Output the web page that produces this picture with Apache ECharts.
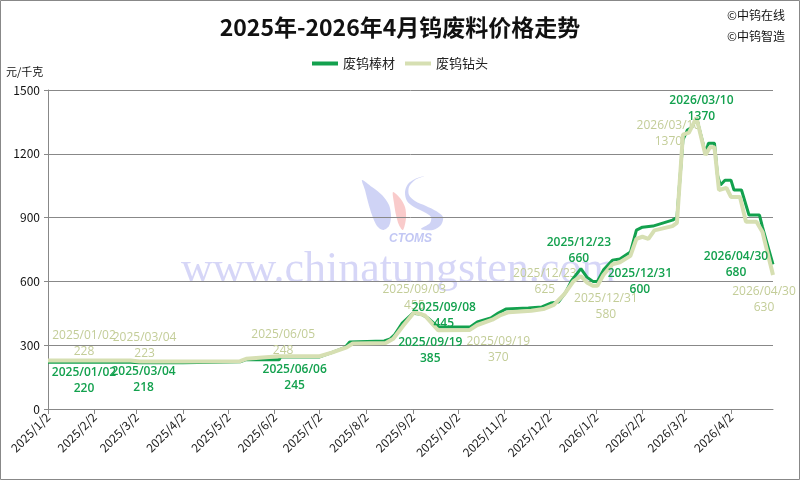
<!DOCTYPE html>
<html>
<head>
<meta charset="utf-8">
<script src="https://cdn.jsdelivr.net/npm/echarts@6/dist/echarts.min.js"></script>
<style>
  html, body { margin: 0; padding: 0; background: #fff; }
  #main { width: 800px; height: 480px; }
</style>
</head>
<body>
<div id="main"></div>
<script>
// 月度刻度
var tickLabels = ['2025/1/2', '2025/2/2', '2025/3/2', '2025/4/2', '2025/5/2', '2025/6/2', '2025/7/2', '2025/8/2',
  '2025/9/2', '2025/10/2', '2025/11/2', '2025/12/2', '2026/1/2', '2026/2/2', '2026/3/2', '2026/4/2'];

// 废钨棒材
var barDates = ['2025/01/02', '2025/02/26', '2025/03/04', '2025/04/02', '2025/04/03', '2025/05/10', '2025/05/14',
  '2025/06/05', '2025/06/06', '2025/07/02', '2025/07/10', '2025/07/19', '2025/07/22', '2025/08/14', '2025/08/18',
  '2025/08/21', '2025/08/26', '2025/09/02', '2025/09/08', '2025/09/12', '2025/09/19', '2025/10/10', '2025/10/15',
  '2025/10/24', '2025/10/29', '2025/11/03', '2025/11/18', '2025/11/27', '2025/12/03', '2025/12/08', '2025/12/13',
  '2025/12/17', '2025/12/23', '2025/12/27', '2025/12/31', '2026/01/03', '2026/01/07', '2026/01/13', '2026/01/18',
  '2026/01/25', '2026/01/29', '2026/02/02', '2026/02/09', '2026/02/22', '2026/02/25', '2026/03/01', '2026/03/04',
  '2026/03/07', '2026/03/10', '2026/03/16', '2026/03/18', '2026/03/22', '2026/03/24', '2026/03/26', '2026/03/29',
  '2026/04/02', '2026/04/04', '2026/04/09', '2026/04/14', '2026/04/21', '2026/04/23', '2026/04/26', '2026/04/30'];
var barValues = [220, 220, 218, 218, 222, 222, 232,
  232, 245, 245, 265, 290, 315, 320, 330,
  350, 404, 450, 445, 428, 385, 385, 409,
  428, 451, 470, 475, 480, 498, 503, 550,
  606, 660, 620, 600, 600, 653, 700, 705,
  738, 841, 855, 860, 888, 900, 1265, 1312,
  1325, 1370, 1203, 1250, 1250, 1100, 1053, 1076,
  1076, 1030, 1030, 912, 912, 855, 780, 680];

// 废钨钻头
var bitDates = ['2025/01/02', '2025/02/26', '2025/03/04', '2025/04/02', '2025/04/03', '2025/05/10', '2025/05/14',
  '2025/06/05', '2025/07/02', '2025/07/10', '2025/07/20', '2025/07/24', '2025/08/15', '2025/08/20', '2025/08/27',
  '2025/09/03', '2025/09/10', '2025/09/19', '2025/10/10', '2025/10/15', '2025/10/25', '2025/10/30', '2025/11/05',
  '2025/11/20', '2025/11/28', '2025/12/05', '2025/12/12', '2025/12/18', '2025/12/23', '2025/12/27', '2025/12/31',
  '2026/01/03', '2026/01/07', '2026/01/13', '2026/01/18', '2026/01/25', '2026/01/29', '2026/02/02', '2026/02/06',
  '2026/02/10', '2026/02/22', '2026/02/25', '2026/03/01', '2026/03/05', '2026/03/10', '2026/03/16', '2026/03/19',
  '2026/03/22', '2026/03/25', '2026/03/30', '2026/04/02', '2026/04/08', '2026/04/12', '2026/04/19', '2026/04/23',
  '2026/04/30'];
var bitValues = [228, 228, 223, 223, 225, 225, 236,
  248, 248, 265, 290, 308, 310, 330, 395,
  455, 440, 370, 372, 395, 420, 440, 455,
  462, 470, 490, 540, 600, 625, 595, 580,
  580, 630, 680, 690, 720, 800, 810, 800,
  840, 860, 875, 1290, 1300, 1370, 1194, 1231,
  1231, 1030, 1040, 997, 997, 880, 880, 832,
  630];

// 标注点
var barNotes = [['2025/01/02', 220], ['2025/03/04', 218], ['2025/06/06', 245], ['2025/09/19', 385],
  ['2025/09/08', 445], ['2025/12/23', 660], ['2025/12/31', 600], ['2026/03/10', 1370], ['2026/04/30', 680]];
var bitNotes = [['2025/01/02', 228], ['2025/03/04', 223], ['2025/06/05', 248], ['2025/09/03', 455],
  ['2025/09/19', 370], ['2025/12/23', 625], ['2025/12/31', 580], ['2026/03/10', 1370], ['2026/04/30', 630]];

var barOffsets = [[36, 18], [4, 17], [14, 21], [-8, 23], [22, 1], [-2, -18], [47, 0], [5, -9], [-37, 0]];
var bitOffsets = [[36, -17], [5, -16], [4, -14], [0, -15], [60, 19], [-36, 5], [13, 21], [-28, 16], [-9, 25]];

var GREEN = '#13a14e';
var LIGHT = '#d6dfb2';

function ts(s) {
  var p = s.split('/');
  return new Date(+p[0], +p[1] - 1, +p[2]).getTime();
}
function pairs(dates, values) {
  return dates.map(function (d, i) { return [ts(d), values[i]]; });
}
function notes(list, offsets, color) {
  return list.map(function (n, i) {
    return {
      coord: [ts(n[0]), n[1]],
      name: n[0],
      value: n[1],
      label: { offset: offsets[i], color: color }
    };
  });
}

var chart = echarts.init(document.getElementById('main'));
var tickValues = tickLabels.map(ts);

chart.setOption({
  animation: false,
  backgroundColor: '#fff',
  title: {
    text: '2025年-2026年4月钨废料价格走势',
    left: 395,
    top: 11,
    textAlign: 'center',
    textStyle: { fontFamily: 'Noto Sans CJK SC', fontWeight: 'bold', fontSize: 23, color: '#111' }
  },
  legend: {
    top: 52,
    left: 'center',
    itemWidth: 26,
    itemHeight: 4,
    itemGap: 10,
    icon: 'rect',
    textStyle: { fontFamily: 'Noto Sans CJK SC', fontSize: 13, color: '#222' },
    data: ['废钨棒材', '废钨钻头']
  },
  graphic: [
    { type: 'rect', shape: { x: 0.5, y: 0.5, width: 799, height: 479 }, style: { fill: null, stroke: '#888', lineWidth: 1 }, z: 100 },
    { type: 'text', left: 727, top: 9, style: { text: '©中钨在线', fontFamily: 'Noto Sans CJK SC', fontSize: 12, fill: '#111' } },
    { type: 'text', left: 727, top: 30, style: { text: '©中钨智造', fontFamily: 'Noto Sans CJK SC', fontSize: 12, fill: '#111' } },
    { type: 'text', left: 6, top: 66, style: { text: '元/千克', fontFamily: 'Noto Sans CJK SC', fontSize: 11, fill: '#111' } },
    // 水印 logo
    { type: 'polygon', z: 0, shape: { points: [[362, 180], [372, 187], [382, 195], [389, 205], [391, 216], [389, 226], [383, 230], [377, 226], [372, 215], [368, 202], [365, 190]], smooth: 0.3 }, style: { fill: 'rgba(130,140,230,0.38)' } },
    { type: 'polygon', z: 0, shape: { points: [[393, 192], [400, 198], [405, 207], [406, 218], [403, 230], [399, 225], [396, 215], [394, 203]], smooth: 0.3 }, style: { fill: 'rgba(240,130,130,0.42)' } },
    { type: 'polygon', z: 0, shape: { points: [[424, 176], [415, 180], [409, 187], [409, 195], [415, 201], [426, 206], [436, 211], [443, 217], [441, 225], [433, 230], [421, 229], [430, 223], [431, 217], [424, 212], [414, 207], [407, 201], [405, 192], [408, 184], [415, 179]], smooth: 0.3 }, style: { fill: 'rgba(130,140,230,0.38)' } },
    { type: 'text', left: 389, top: 233, z: 0, style: { text: 'CTOMS', fontFamily: 'Liberation Sans', fontStyle: 'italic', fontWeight: 'bold', fontSize: 12, fill: 'rgba(120,130,230,0.45)' } },
    { type: 'text', left: 181, top: 248, z: 0, style: { text: 'www.chinatungsten.com', fontFamily: 'Liberation Serif', fontSize: 44, fill: 'rgba(120,120,230,0.3)' } }
  ],
  grid: { left: 48, right: 27, top: 90, bottom: 71 },
  xAxis: {
    type: 'value',
    min: ts('2025/01/02'),
    max: ts('2026/04/30'),
    axisLine: { lineStyle: { color: '#888' } },
    axisTick: { show: true, customValues: tickValues, length: 5, lineStyle: { color: '#888' } },
    splitLine: { show: false },
    axisLabel: {
      customValues: tickValues,
      rotate: 45,
      fontFamily: 'Noto Sans CJK SC',
      fontSize: 12,
      color: '#222',
      margin: 6,
      formatter: function (v) {
        var d = new Date(v);
        return d.getFullYear() + '/' + (d.getMonth() + 1) + '/' + d.getDate();
      }
    }
  },
  yAxis: {
    type: 'value',
    min: 0,
    max: 1500,
    interval: 300,
    axisLine: { show: true, lineStyle: { color: '#888' } },
    axisTick: { show: true, length: 4, lineStyle: { color: '#888' } },
    splitLine: { lineStyle: { color: '#888' } },
    axisLabel: {
      fontFamily: 'Noto Sans CJK SC', fontSize: 12, color: '#111', margin: 8,
      formatter: function (v) { return String(v); }
    }
  },
  series: [
    {
      name: '废钨棒材',
      type: 'line',
      showSymbol: false,
      color: GREEN,
      lineStyle: { width: 3, color: GREEN },
      data: pairs(barDates, barValues),
      z: 3,
      markPoint: {
        symbol: 'circle',
        symbolSize: 0,
        label: {
          show: true,
          position: 'inside',
          formatter: function (p) { return p.name + '\n' + p.value; },
          fontFamily: 'Open Sans',
          fontSize: 12,
          lineHeight: 16,
          fontWeight: 600,
          align: 'center'
        },
        data: notes(barNotes, barOffsets, GREEN)
      }
    },
    {
      name: '废钨钻头',
      type: 'line',
      showSymbol: false,
      color: LIGHT,
      lineStyle: { width: 4, color: LIGHT },
      data: pairs(bitDates, bitValues),
      z: 4,
      markPoint: {
        symbol: 'circle',
        symbolSize: 0,
        z: 1,
        label: {
          show: true,
          position: 'inside',
          formatter: function (p) { return p.name + '\n' + p.value; },
          fontFamily: 'Open Sans',
          fontSize: 12,
          lineHeight: 16,
          align: 'center'
        },
        data: notes(bitNotes, bitOffsets, '#c3cd98')
      }
    }
  ]
});
</script>
</body>
</html>
